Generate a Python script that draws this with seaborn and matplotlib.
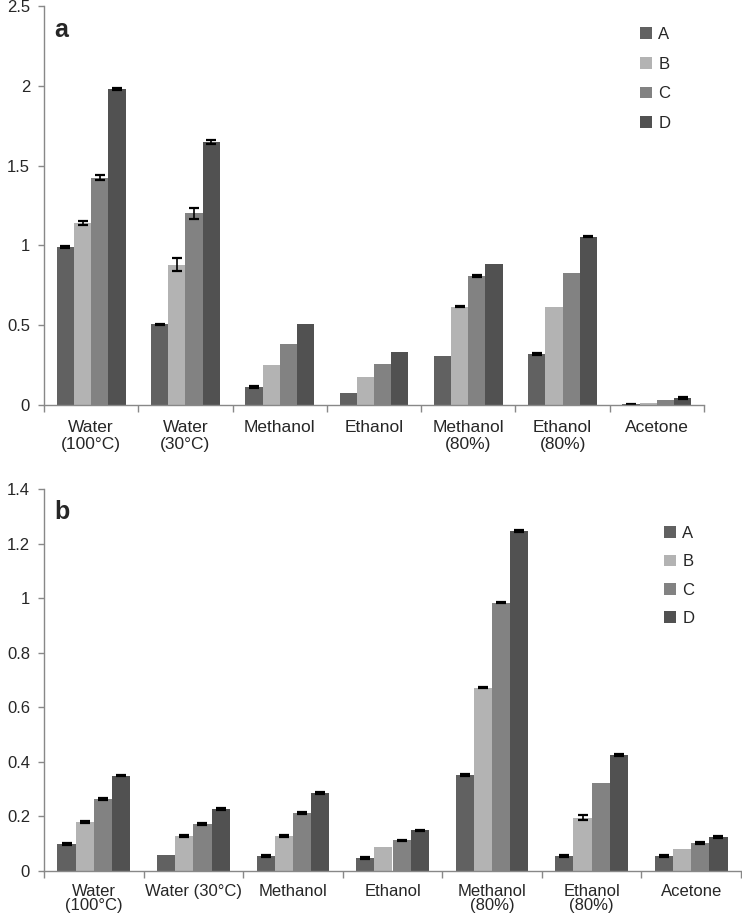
import numpy as np
import pandas as pd
import matplotlib
matplotlib.use("Agg")
import matplotlib.pyplot as plt
import seaborn as sns

# ---- data ----
series = ["A", "B", "C", "D"]
colors = ["#616161", "#b3b3b3", "#828282", "#515151"]

labels_a = ["Water\n(100°C)", "Water\n(30°C)", "Methanol", "Ethanol",
            "Methanol\n(80%)", "Ethanol\n(80%)", "Acetone"]
labels_b = ["Water\n(100°C)", "Water (30°C)", "Methanol", "Ethanol",
            "Methanol\n(80%)", "Ethanol\n(80%)", "Acetone"]

vals_a = {
    "A": [0.99, 0.505, 0.113, 0.077, 0.305, 0.32, 0.005],
    "B": [1.14, 0.88, 0.25, 0.175, 0.615, 0.615, 0.012],
    "C": [1.425, 1.20, 0.38, 0.255, 0.81, 0.825, 0.03],
    "D": [1.98, 1.648, 0.505, 0.333, 0.882, 1.055, 0.045],
}
err_a = {
    "A": [0.005, 0.005, 0.004, 0.0, 0.0, 0.005, 0.002],
    "B": [0.015, 0.04, 0.0, 0.0, 0.003, 0.0, 0.0],
    "C": [0.015, 0.035, 0.0, 0.0, 0.005, 0.0, 0.0],
    "D": [0.008, 0.012, 0.0, 0.0, 0.0, 0.005, 0.005],
}
vals_b = {
    "A": [0.10, 0.059, 0.056, 0.048, 0.351, 0.055, 0.055],
    "B": [0.18, 0.129, 0.129, 0.087, 0.672, 0.196, 0.079],
    "C": [0.265, 0.173, 0.212, 0.113, 0.984, 0.321, 0.103],
    "D": [0.35, 0.227, 0.286, 0.15, 1.245, 0.426, 0.125],
}
err_b = {
    "A": [0.003, 0.0, 0.003, 0.003, 0.003, 0.002, 0.002],
    "B": [0.003, 0.003, 0.003, 0.0, 0.003, 0.008, 0.0],
    "C": [0.003, 0.003, 0.003, 0.002, 0.003, 0.0, 0.003],
    "D": [0.003, 0.003, 0.003, 0.002, 0.003, 0.003, 0.003],
}

yticks_a = [0, 0.5, 1, 1.5, 2, 2.5]
ylabels_a = ["0", "0.5", "1", "1.5", "2", "2.5"]
yticks_b = [0, 0.2, 0.4, 0.6, 0.8, 1.0, 1.2, 1.4]
ylabels_b = ["0", "0.2", "0.4", "0.6", "0.8", "1", "1.2", "1.4"]

sns.set_style("ticks")
plt.rcParams["font.family"] = ["Liberation Sans", "DejaVu Sans"]

W, H = 742, 913
fig = plt.figure(figsize=(W / 100, H / 100), dpi=100)


def panel(rect, cats, vals, errs, yticks, ylabels, tag, leg_pos,
          fs=12, xpad=11, lsp=1.2, legsp=1.15):
    ax = fig.add_axes(rect)
    df = pd.DataFrame([
        {"cat": c, "series": s, "val": vals[s][i]}
        for s in series for i, c in enumerate(cats)
    ])
    sns.barplot(data=df, x="cat", y="val", hue="series", order=cats,
                hue_order=series, palette=colors, width=0.73,
                errorbar=None, saturation=1, linewidth=0, ax=ax)
    # error bars on top of each bar
    for s, cont in zip(series, ax.containers):
        for i, p in enumerate(cont.patches):
            e = errs[s][i]
            if e > 0:
                ax.errorbar(p.get_x() + p.get_width() / 2, p.get_height(),
                            yerr=e, fmt="none", ecolor="black",
                            elinewidth=1.2, capsize=3.5, capthick=1.6)
    ax.set_xlim(-0.5, len(cats) - 0.5)
    ax.set_ylim(yticks[0], yticks[-1])
    ax.set_yticks(yticks)
    ax.set_yticklabels(ylabels, fontsize=12)
    ax.set_xticks(range(len(cats)))
    ax.set_xticklabels(cats, fontsize=fs, linespacing=lsp)
    ax.set_xticks(np.arange(len(cats) + 1) - 0.5, minor=True)
    ax.tick_params(axis="x", which="major", length=0, pad=xpad)
    ax.tick_params(axis="x", which="minor", length=5, color="#888888", width=1)
    ax.tick_params(axis="y", length=4, color="#888888", width=1, pad=6)
    ax.set_xlabel("")
    ax.set_ylabel("")
    sns.despine(ax=ax)
    for sp in ["left", "bottom"]:
        ax.spines[sp].set_color("#888888")
        ax.spines[sp].set_linewidth(1)
    ax.text(0.015, 0.97, tag, transform=ax.transAxes, fontsize=18,
            fontweight="bold", va="top", ha="left")
    ax.legend(frameon=False, fontsize=12, handlelength=0.7,
              handleheight=0.7, handletextpad=0.4, labelspacing=legsp,
              loc="upper left", bbox_to_anchor=leg_pos,
              bbox_transform=fig.transFigure)
    return ax


panel([44 / W, (H - 405) / H, 660 / W, 399 / H], labels_a, vals_a, err_a,
      yticks_a, ylabels_a, "a", (625 / W, 1 - 12 / H),
      fs=12.5, xpad=11, lsp=1.15, legsp=0.88)
panel([44 / W, (H - 871) / H, 697 / W, 382 / H], labels_b, vals_b, err_b,
      yticks_b, ylabels_b, "b", (649 / W, 1 - 511 / H),
      fs=12, xpad=9, lsp=0.95, legsp=0.8)

fig.savefig("out.png", dpi=100)
